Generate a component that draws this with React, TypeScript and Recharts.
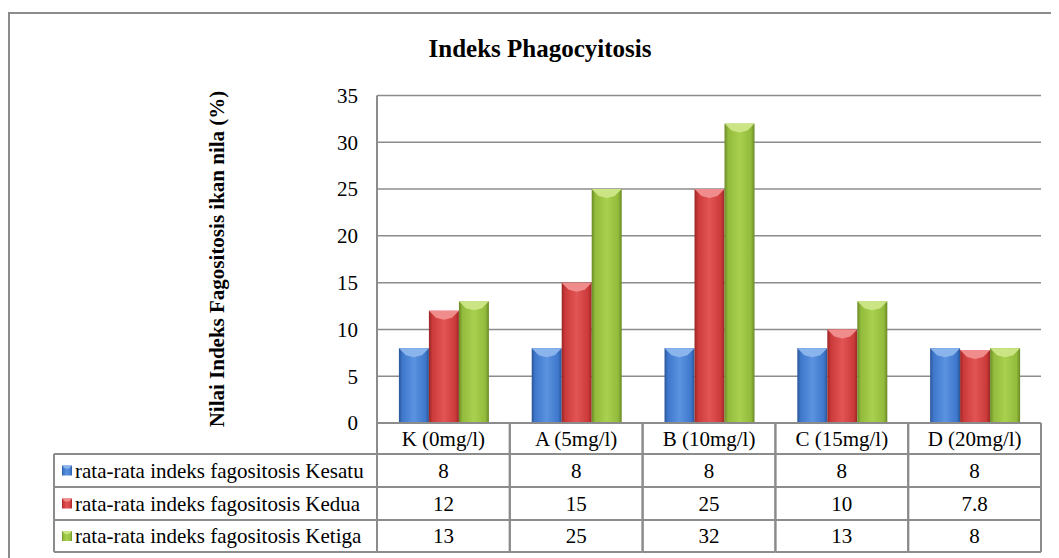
import React from "react";
import { Bar, BarChart, CartesianGrid, XAxis, YAxis } from "recharts";

const categories = ["K (0mg/l)", "A (5mg/l)", "B (10mg/l)", "C (15mg/l)", "D (20mg/l)"];
const kesatu = [8, 8, 8, 8, 8];
const kedua = [12, 15, 25, 10, 7.8];
const ketiga = [13, 25, 32, 13, 8];
const yTicks = [0, 5, 10, 15, 20, 25, 30, 35];

const seriesKeys = ["kesatu", "kedua", "ketiga"];
const seriesValues = [kesatu, kedua, ketiga];
const seriesNames = [
  "rata-rata indeks fagositosis Kesatu",
  "rata-rata indeks fagositosis Kedua",
  "rata-rata indeks fagositosis Ketiga",
];

const SERIES_COLORS = [
  { dark: "#2a5698", base: "#3f78cc", light: "#5b93e0", top: "#8ab4ec" },
  { dark: "#9a2626", base: "#cc3a3a", light: "#e25555", top: "#f08c8c" },
  { dark: "#6a8a26", base: "#93bb3c", light: "#a9d04e", top: "#cbe585" },
];

const GRID = "#8c8c8c";
const FONT = "'Liberation Serif', 'Times New Roman', serif";

const W = 1051;
const H = 550;
const PLOT_LEFT = 369;
const PLOT_RIGHT = 1033;
const PLOT_TOP = 87.5;
const PLOT_BOTTOM = 415;
const CELL_W = (PLOT_RIGHT - PLOT_LEFT) / categories.length;
const ROWS = [416, 446, 479, 512, 544];
const LEGEND_LEFT = 46;

const data = categories.map((name, i) => ({
  name,
  kesatu: kesatu[i],
  kedua: kedua[i],
  ketiga: ketiga[i],
}));

function makeShape(si: number) {
  return (props: any) => {
    const { x, y, width, height } = props;
    if (!height || height <= 0) return <g />;
    const b = Math.min(7, height / 2);
    return (
      <g>
        <rect x={x} y={y} width={width} height={height} fill={`url(#grad-${si})`} />
        <polygon
          points={`${x},${y} ${x + width},${y} ${x + width - b},${y + b} ${x + width / 2},${y + b + 2} ${x + b},${y + b}`}
          fill={SERIES_COLORS[si].top}
        />
      </g>
    );
  };
}

function TableTick(props: any) {
  const { x, payload } = props;
  const i = payload.index;
  const x0 = x - CELL_W / 2;
  const x1 = x + CELL_W / 2;
  const mid = (a: number, b: number) => (a + b) / 2;
  return (
    <g style={{ fontFamily: FONT }} fontSize={21} fill="#000">
      <text x={x} y={mid(ROWS[0], ROWS[1])} dy="0.35em" textAnchor="middle">
        {payload.value}
      </text>
      {seriesValues.map((vals, si) => (
        <text key={si} x={x} y={mid(ROWS[si + 1], ROWS[si + 2])} dy="0.35em" textAnchor="middle">
          {String(vals[i])}
        </text>
      ))}
      <line x1={x0} y1={ROWS[0] - 1} x2={x0} y2={ROWS[4]} stroke={GRID} strokeWidth={2} />
      <line x1={x1} y1={ROWS[0] - 1} x2={x1} y2={ROWS[4]} stroke={GRID} strokeWidth={2} />
      {ROWS.slice(1).map((ry) => (
        <line key={ry} x1={x0} y1={ry} x2={x1} y2={ry} stroke={GRID} strokeWidth={2} />
      ))}
      {i === 0 && (
        <g>
          <line x1={LEGEND_LEFT} y1={ROWS[1]} x2={LEGEND_LEFT} y2={ROWS[4]} stroke={GRID} strokeWidth={2} />
          {ROWS.slice(1).map((ry) => (
            <line key={ry} x1={LEGEND_LEFT} y1={ry} x2={x0} y2={ry} stroke={GRID} strokeWidth={2} />
          ))}
          {seriesNames.map((name, si) => {
            const cy = mid(ROWS[si + 1], ROWS[si + 2]);
            return (
              <g key={name}>
                <rect x={54} y={cy - 5} width={10} height={10} fill={`url(#grad-${si})`} />
                <polygon points={`54,${cy - 5} 64,${cy - 5} 61,${cy - 2} 57,${cy - 2}`} fill={SERIES_COLORS[si].top} />
                <text x={67} y={cy} dy="0.35em" textAnchor="start">
                  {name}
                </text>
              </g>
            );
          })}
        </g>
      )}
    </g>
  );
}

function YTick(props: any) {
  const { y, payload } = props;
  return (
    <text x={PLOT_LEFT - 19} y={y} dy="0.35em" textAnchor="end" style={{ fontFamily: FONT }} fontSize={21} fill="#000">
      {payload.value}
    </text>
  );
}

function YLabel() {
  return (
    <text
      x={209}
      y={251}
      transform="rotate(-90 209 251)"
      textAnchor="middle"
      dominantBaseline="central"
      style={{ fontFamily: FONT }}
      fontSize={21}
      fontWeight="bold"
      fill="#000"
    >
      Nilai Indeks Fagositosis ikan nila (%)
    </text>
  );
}

export default function App() {
  return (
    <div style={{ position: "relative", width: W, height: H }}>
      <style>{"body{overflow:hidden}"}</style>
      <div
        style={{
          position: "absolute",
          left: 0,
          top: 4,
          width: W,
          height: H,
          borderLeft: `2px solid ${GRID}`,
          borderTop: `2px solid ${GRID}`,
        }}
      />
      <div
        style={{
          position: "absolute",
          left: 332,
          top: 28,
          width: 400,
          textAlign: "center",
          fontFamily: FONT,
          fontSize: 25,
          lineHeight: "25px",
          fontWeight: "bold",
          color: "#000",
        }}
      >
        Indeks Phagocyitosis
      </div>
      <div style={{ position: "absolute", left: 0, top: 0 }}>
        <BarChart
          width={W}
          height={H}
          data={data}
          margin={{ top: PLOT_TOP, right: W - PLOT_RIGHT, left: 0, bottom: H - PLOT_BOTTOM - 129 }}
          barCategoryGap="16.5%"
          barGap={0}
        >
          <defs>
            {SERIES_COLORS.map((c, si) => (
              <linearGradient key={si} id={`grad-${si}`} x1="0" y1="0" x2="1" y2="0">
                <stop offset="0%" stopColor={c.dark} />
                <stop offset="12%" stopColor={c.base} />
                <stop offset="50%" stopColor={c.light} />
                <stop offset="88%" stopColor={c.base} />
                <stop offset="100%" stopColor={c.dark} />
              </linearGradient>
            ))}
          </defs>
          <CartesianGrid vertical={false} stroke={GRID} strokeWidth={1.5} />
          <XAxis
            dataKey="name"
            height={129}
            interval={0}
            axisLine={{ stroke: GRID, strokeWidth: 2 }}
            tickLine={false}
            tick={TableTick}
          />
          <YAxis
            width={PLOT_LEFT}
            domain={[0, 35]}
            ticks={yTicks}
            axisLine={{ stroke: GRID, strokeWidth: 2 }}
            tickLine={false}
            tick={YTick}
            label={<YLabel />}
          />
          {seriesKeys.map((key, si) => (
            <Bar
              key={key}
              dataKey={key}
              name={seriesNames[si]}
              fill={SERIES_COLORS[si].base}
              shape={makeShape(si)}
              isAnimationActive={false}
            />
          ))}
        </BarChart>
      </div>
    </div>
  );
}
